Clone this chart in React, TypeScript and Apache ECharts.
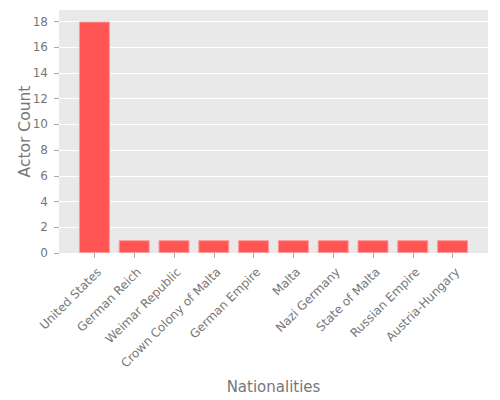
import React, { useEffect, useRef } from "react";
import * as echarts from "echarts";

const categories = [
  "United States",
  "German Reich",
  "Weimar Republic",
  "Crown Colony of Malta",
  "German Empire",
  "Malta",
  "Nazi Germany",
  "State of Malta",
  "Russian Empire",
  "Austria-Hungary",
];
const counts = [18, 1, 1, 1, 1, 1, 1, 1, 1, 1];
const yTicks = [0, 2, 4, 6, 8, 10, 12, 14, 16, 18];

const FONT = "DejaVu Sans";
const TEXT = "#777";
const LABEL_SHIFT = 0.12; // rotated labels sit slightly right of their ticks

export default function App() {
  const ref = useRef<HTMLDivElement>(null);
  useEffect(() => {
    if (!ref.current) return;
    const chart = echarts.init(ref.current, undefined, { renderer: "svg" });
    const idx = categories.map((_, i) => i);
    chart.setOption({
      animation: false,
      backgroundColor: "#fff",
      textStyle: { fontFamily: FONT },
      grid: {
        left: 59,
        right: 12,
        top: 10,
        bottom: 147,
        show: true,
        backgroundColor: "#E9E9E9",
        borderWidth: 0,
      },
      xAxis: {
        type: "value",
        min: -0.89,
        max: 9.89,
        name: "Nationalities",
        nameLocation: "middle",
        nameGap: 126,
        nameTextStyle: { fontFamily: FONT, fontSize: 15, color: TEXT },
        axisLine: { show: false, onZero: false },
        splitLine: { show: false },
        axisTick: {
          show: true,
          customValues: idx,
          length: 5,
          lineStyle: { color: "#aaa" },
        },
        axisLabel: {
          customValues: idx.map((i) => i + LABEL_SHIFT),
          rotate: 45,
          margin: 17,
          fontSize: 12,
          color: TEXT,
          fontFamily: FONT,
          formatter: (v: number) => categories[Math.round(v)] ?? "",
        },
      },
      yAxis: {
        type: "value",
        min: 0,
        max: 18.9,
        interval: 2,
        name: "Actor Count",
        nameLocation: "middle",
        nameGap: 26,
        nameMoveOverlap: false,
        nameTextStyle: { fontFamily: FONT, fontSize: 15.5, color: TEXT },
        axisLine: { show: false, onZero: false },
        axisTick: {
          show: true,
          customValues: yTicks,
          length: 5,
          lineStyle: { color: "#aaa" },
        },
        splitLine: { show: true, lineStyle: { color: "#fff", width: 1 } },
        axisLabel: {
          customValues: yTicks,
          fontSize: 12,
          color: TEXT,
          fontFamily: FONT,
          margin: 11,
        },
      },
      series: [
        {
          type: "bar",
          data: counts.map((v, i) => [i, v]),
          barWidth: 31,
          itemStyle: { color: "#FF5555", borderColor: "#FF9A9A", borderWidth: 1 },
        },
      ],
    });
    return () => chart.dispose();
  }, []);
  return <div ref={ref} style={{ width: 500, height: 400, margin: -8 }} />;
}
